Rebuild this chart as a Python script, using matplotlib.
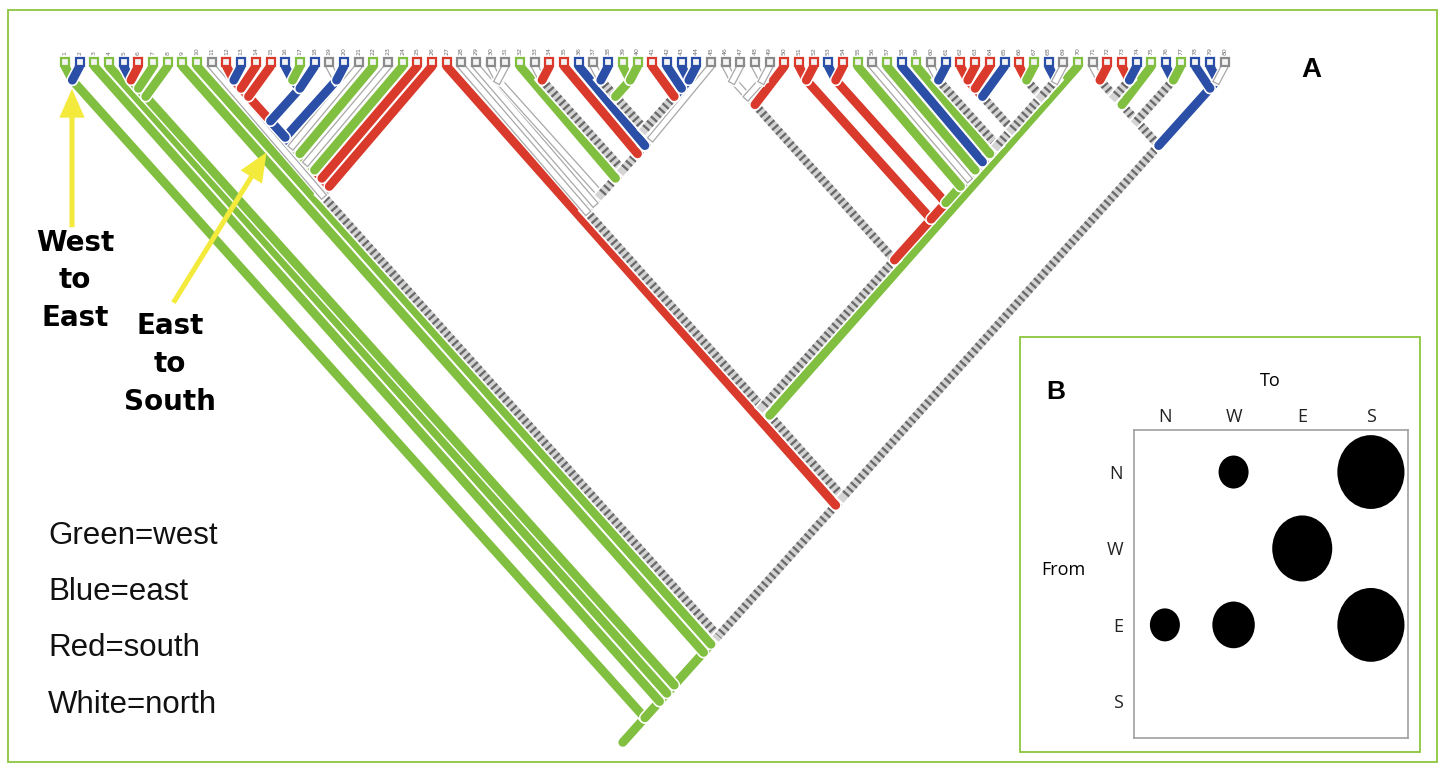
import numpy as np
import matplotlib.pyplot as plt
from matplotlib import patheffects as pe
from matplotlib.patches import Rectangle, FancyArrowPatch
from matplotlib.path import Path

# ---- data -------------------------------------------------------------
# state of each terminal taxon, left to right (g=west, b=east, r=south, w=north)
leaf_states = list(
    "gbggbrgggg"
    "wrbrrbgbwb"
    "wgwgrrrwww"
    "wgwrrbwbgg"
    "rbbbwwwwwr"
    "rrbrgwgbgw"
    "brrrbrgbwg"
    "wrrbgbgbbw"
)
leaf_labels = [str(i + 1) for i in range(len(leaf_states))]

# internal nodes as (first leaf, last leaf, state of the stem below the node)
# h = equivocal (hatched)
clades = [
    (0, 79, 'g'), (0, 1, 'g'), (2, 79, 'g'), (3, 79, 'g'), (4, 79, 'g'),
    (8, 79, 'g'), (9, 79, 'g'), (10, 79, 'g'),
    (4, 7, 'g'), (4, 6, 'g'), (4, 5, 'g'),
    # left clade
    (10, 25, 'h'), (11, 25, 'h'), (11, 24, 'r'), (11, 23, 'r'), (11, 22, 'g'),
    (11, 21, 'g'), (11, 20, 'g'), (11, 19, 'b'), (18, 19, 'b'), (11, 17, 'b'),
    (11, 14, 'r'), (11, 13, 'r'), (11, 12, 'r'), (15, 17, 'b'), (15, 16, 'b'),
    # backbone on the right
    (26, 79, 'h'), (27, 79, 'h'), (27, 69, 'h'), (27, 68, 'h'), (70, 79, 'h'),
    # middle clade
    (27, 44, 'h'), (28, 44, 'w'), (29, 44, 'w'), (29, 30, 'w'), (31, 44, 'h'),
    (32, 44, 'h'), (32, 33, 'h'), (34, 44, 'h'), (35, 44, 'h'), (36, 44, 'h'),
    (36, 43, 'h'), (36, 39, 'h'), (36, 37, 'h'), (38, 39, 'g'), (40, 43, 'h'),
    (41, 43, 'b'), (42, 43, 'b'),
    # right-middle clade
    (45, 68, 'h'), (45, 49, 'h'), (45, 48, 'w'), (45, 46, 'w'), (47, 48, 'w'),
    (50, 68, 'r'), (50, 51, 'r'), (52, 68, 'r'), (52, 53, 'r'), (54, 68, 'g'),
    (55, 68, 'g'), (56, 68, 'g'), (57, 68, 'h'), (58, 68, 'h'), (59, 68, 'h'),
    (59, 60, 'h'), (61, 68, 'h'), (61, 64, 'h'), (61, 63, 'r'), (61, 62, 'r'),
    (65, 68, 'h'), (65, 66, 'h'), (67, 68, 'h'),
    # rightmost clade
    (70, 76, 'h'), (70, 74, 'h'), (70, 73, 'h'), (70, 71, 'h'), (72, 73, 'h'),
    (75, 76, 'h'), (77, 79, 'b'), (78, 79, 'b'),
]

legend_lines = ['Green=west', 'Blue=east', 'Red=south', 'White=north']

# panel B: transitions
directions = ['N', 'W', 'E', 'S']
from_dir = ['N', 'N', 'W', 'E', 'E', 'E']
to_dir = ['W', 'S', 'E', 'N', 'W', 'S']
counts = [1, 5, 4, 1, 2, 5]

# ---- style ------------------------------------------------------------
cols = {'g': '#80bf40', 'b': '#2b4fa6', 'r': '#d93a2b', 'w': '#9c9c9c', 'h': '#8a8a8a'}
frame_green = '#8cc63e'
yellow = '#f4ea3c'
W, H = 1440, 767


def F(px, py):
    return (px / W, 1 - py / H)


fig = plt.figure(figsize=(W / 100, H / 100), dpi=100)
ax = fig.add_axes([0, 0, 1, 1])
dx, dy, y0 = 14.68, 16.35, 72
ax.set_xlim(-65 / dx, (W - 65) / dx)
ax.set_ylim((H - y0) / dy, -y0 / dy)
ax.axis('off')


def branch(xa, ya, xb, yb, s):
    z = 2 + (50 - max(ya, yb)) * 0.01
    edge = [pe.Stroke(linewidth=8.6, foreground='white'), pe.Normal()]
    if s in 'gbr':
        ax.plot([xa, xb], [ya, yb], color=cols[s], lw=6.4, solid_capstyle='round',
                zorder=z, path_effects=edge)
    elif s == 'w':
        ax.plot([xa, xb], [ya, yb], color='#a8a8a8', lw=5.6, zorder=z,
                path_effects=[pe.Stroke(linewidth=7.4, foreground='white'), pe.Normal()])
        ax.plot([xa, xb], [ya, yb], color='white', lw=3.8, zorder=z)
    else:
        ax.plot([xa, xb], [ya, yb], color='#d4d4d4', lw=6.0, zorder=z, path_effects=edge)
        ax.plot([xa, xb], [ya, yb], color='#6a6a6a', lw=6.0, dashes=(0.28, 0.42),
                zorder=z)


spans = [(a, b) for a, b, _ in clades]


def parent_of(lo, hi):
    best = None
    for a, b in spans:
        if a <= lo and hi <= b and (a, b) != (lo, hi):
            if best is None or b - a < best[1] - best[0]:
                best = (a, b)
    return best


def pos(lo, hi):
    return (lo + hi) / 2, (hi - lo) / 2


# internal stems
for lo, hi, s in clades:
    p = parent_of(lo, hi)
    x1, y1 = pos(lo, hi)
    if p is None:
        # root stem
        branch(x1, y1, x1 - 1.5, y1 + 1.5, s)
        continue
    x2, y2 = pos(*p)
    branch(x1, y1, x2, y2, s)

# terminal branches
for i, s in enumerate(leaf_states):
    p = parent_of(i, i)
    x2, y2 = pos(*p)
    branch(i, -0.35, x2, y2, s)

# tip boxes and labels
for i, s in enumerate(leaf_states):
    ec = cols[s] if s != 'w' else '#8a8a8a'
    ax.plot(i, -0.6, marker='s', ms=5.5, mfc='#f4f4f4', mec=ec, mew=1.6, zorder=20)
    ax.text(i, -1.05, leaf_labels[i], rotation=90, ha='center', va='bottom',
            fontsize=4.5, color='#707070', zorder=20)

# ---- annotations ------------------------------------------------------
fig.text(*F(1311, 70), 'A', ha='center', va='center', fontsize=20,
         fontweight='bold', family='Liberation Sans')

for txt, py in zip(['West', 'to', 'East'], [243, 280, 318]):
    fig.text(*F(75, py), txt, ha='center', va='center', fontsize=20,
             fontweight='bold', family='DejaVu Sans')
for txt, py in zip(['East', 'to', 'South'], [326, 364, 402]):
    fig.text(*F(170, py), txt, ha='center', va='center', fontsize=20,
             fontweight='bold', family='DejaVu Sans')

arrow_style = 'simple,head_length=1.6,head_width=1.4,tail_width=0.28'
for a, b in [((72, 230), (72, 86)), ((172, 305), (268, 150))]:
    fig.add_artist(FancyArrowPatch(F(*a), F(*b), transform=fig.transFigure,
                                   arrowstyle=arrow_style, mutation_scale=13,
                                   color=yellow, lw=0, zorder=30))

for txt, py in zip(legend_lines, [536, 592, 648, 705]):
    fig.text(*F(48, py), txt, ha='left', va='center', fontsize=22.5,
             family='Liberation Sans', color='#111111')

# frames
x0, y1 = F(8, 762)
x1, y0_ = F(1437, 10)
fig.add_artist(Rectangle((x0, y1), x1 - x0, y0_ - y1, transform=fig.transFigure,
                         fill=False, edgecolor=frame_green, lw=1.3))
x0, y1 = F(1020, 752)
x1, y0_ = F(1420, 337)
fig.add_artist(Rectangle((x0, y1), x1 - x0, y0_ - y1, transform=fig.transFigure,
                         facecolor='white', edgecolor=frame_green, lw=1.3, zorder=5))

# ---- panel B ----------------------------------------------------------
bax = fig.add_axes([1134 / W, 1 - 738 / H, 274 / W, 308 / H], zorder=10)
bax.set_xlim(-0.45, 3.54)
bax.set_ylim(3.48, -0.55)
bax.xaxis.tick_top()
bax.set_xticks(range(4))
bax.set_xticklabels(directions)
bax.set_yticks(range(4))
bax.set_yticklabels(directions)
bax.tick_params(length=0, labelsize=13, colors='#222222')
bax.tick_params(axis='x', pad=3)
bax.tick_params(axis='y', pad=8)
for lab in bax.get_xticklabels() + bax.get_yticklabels():
    lab.set_family('Open Sans')
for sp in bax.spines.values():
    sp.set_color('#a0a0a0')
    sp.set_linewidth(1.2)

circ = Path.unit_circle()
oval = Path(circ.vertices * np.array([1.0, 1.1]), circ.codes)
bx = [directions.index(d) for d in to_dir]
by = [directions.index(d) for d in from_dir]
bax.scatter(bx, by, s=np.array(counts) * 565, marker=oval, color='black', lw=0)

fig.text(*F(1270, 381), 'To', ha='center', va='center', fontsize=13,
         family='Open Sans', zorder=20)
fig.text(*F(1063, 570), 'From', ha='center', va='center', fontsize=13,
         family='Open Sans', zorder=20)
fig.text(*F(1056, 392), 'B', ha='center', va='center', fontsize=19,
         fontweight='bold', family='Liberation Sans', zorder=20)

fig.savefig('out.png', dpi=100)
